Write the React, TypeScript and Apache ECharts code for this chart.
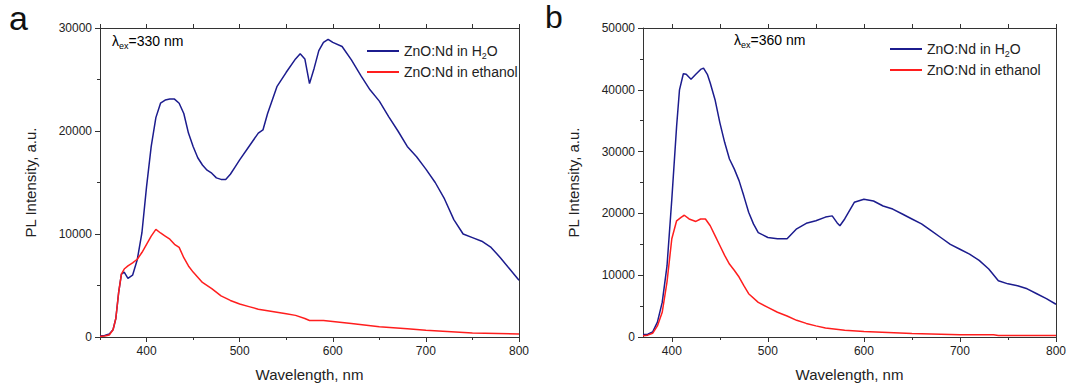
import React, { useEffect, useRef } from "react";
import * as echarts from "echarts";

// Panel a (λex = 330 nm)
const waveA_H2O = [350, 355, 360, 364, 367, 370, 373, 376, 380, 385, 390, 395, 400, 405, 410, 415, 420, 425, 430, 435, 440, 445, 450, 455, 460, 465, 470, 475, 480, 485, 490, 495, 500, 510, 520, 525, 530, 540, 550, 560, 565, 570, 575, 580, 585, 590, 595, 600, 610, 620, 630, 640, 650, 660, 670, 680, 690, 700, 710, 720, 730, 740, 750, 760, 770, 780, 790, 800];
const intA_H2O = [100, 150, 300, 700, 1800, 4300, 6100, 6300, 5700, 6000, 7500, 10100, 14600, 18500, 21300, 22700, 23000, 23100, 23100, 22700, 21700, 19800, 18500, 17400, 16700, 16200, 15900, 15450, 15300, 15300, 15800, 16500, 17200, 18500, 19800, 20100, 21700, 24300, 25700, 27000, 27500, 27000, 24600, 26100, 27800, 28600, 28900, 28600, 28200, 26900, 25400, 24000, 22900, 21400, 20000, 18500, 17500, 16300, 15000, 13400, 11400, 10000, 9650, 9300, 8700, 7700, 6600, 5500];
const waveA_EtOH = [350, 355, 360, 364, 367, 370, 373, 376, 380, 385, 390, 395, 400, 405, 410, 415, 420, 425, 430, 435, 440, 445, 450, 455, 460, 470, 480, 490, 500, 510, 520, 530, 540, 550, 560, 570, 575, 590, 600, 620, 650, 680, 700, 750, 800];
const intA_EtOH = [50, 100, 200, 700, 1800, 4300, 6100, 6600, 6900, 7200, 7550, 8200, 9000, 9800, 10450, 10100, 9800, 9500, 9000, 8700, 7700, 6900, 6300, 5800, 5300, 4700, 4000, 3550, 3200, 2950, 2700, 2550, 2400, 2250, 2100, 1800, 1600, 1600, 1500, 1300, 1000, 800, 650, 400, 300];

// Panel b (λex = 360 nm)
const waveB_H2O = [370, 375, 380, 385, 390, 395, 400, 405, 408, 412, 415, 420, 425, 430, 433, 437, 440, 445, 450, 455, 460, 465, 470, 475, 480, 485, 490, 500, 510, 520, 530, 540, 550, 560, 567, 572, 575, 580, 590, 600, 610, 620, 630, 640, 650, 660, 670, 680, 690, 700, 710, 720, 730, 740, 750, 760, 770, 780, 790, 800];
const intB_H2O = [400, 450, 800, 2400, 5600, 11500, 22300, 34100, 40000, 42600, 42500, 41700, 42500, 43300, 43500, 42500, 41100, 38400, 34700, 31500, 28800, 27200, 25300, 22800, 20200, 18300, 16900, 16100, 15900, 15900, 17500, 18400, 18800, 19400, 19600, 18500, 18000, 19100, 21800, 22300, 22000, 21200, 20700, 19900, 19100, 18300, 17200, 16100, 15000, 14200, 13400, 12400, 11000, 9100, 8600, 8300, 7800, 7000, 6200, 5300];
const waveB_EtOH = [370, 375, 380, 385, 390, 395, 400, 405, 410, 413, 418, 425, 430, 435, 440, 445, 450, 455, 460, 465, 470, 475, 480, 490, 500, 510, 520, 530, 540, 550, 560, 580, 600, 650, 700, 735, 740, 800];
const intB_EtOH = [200, 300, 600, 1800, 4000, 8900, 15900, 18800, 19400, 19700, 19100, 18700, 19100, 19100, 18000, 16400, 14800, 13200, 11800, 10800, 9700, 8300, 7000, 5600, 4800, 4000, 3400, 2700, 2200, 1800, 1450, 1100, 900, 550, 380, 350, 250, 250];

const seriesNames = ["ZnO:Nd in H2O", "ZnO:Nd in ethanol"];
const xMajorTicks = [400, 500, 600, 700, 800];
const xMinorTicksA = [350, 450, 550, 650, 750];
const xMinorTicksB = [450, 550, 650, 750];
const xTopTicksA = [350, 400, 450, 500, 550, 600, 650, 700, 750, 800];
const xTopTicksB = [400, 450, 500, 550, 600, 650, 700, 750, 800];

const BLUE = "#1c1c8e";
const RED = "#ff1e1e";
const AXIS = "#333";
const TEXT = "#222";
const FONT = '"Liberation Sans", Arial, sans-serif';

const zip = (xs: number[], ys: number[]) => xs.map((x, i) => [x, ys[i]]);

function xAxes(grid: number, min: number, minor: number[], top: number[]) {
  return [
    {
      type: "value", gridIndex: grid, min, max: 800, position: "bottom",
      axisLine: { show: true, onZero: false, lineStyle: { color: AXIS, width: 1 } },
      axisTick: { show: true, customValues: xMajorTicks, length: 5, lineStyle: { color: AXIS } },
      axisLabel: { customValues: xMajorTicks, fontSize: 12, color: TEXT, margin: 8, fontFamily: FONT },
      splitLine: { show: false },
      name: "Wavelength, nm", nameLocation: "middle", nameGap: 30,
      nameTextStyle: { fontSize: 15, color: TEXT, fontFamily: FONT },
    },
    {
      type: "value", gridIndex: grid, min, max: 800, position: "bottom",
      axisLine: { show: false, onZero: false },
      axisTick: { show: true, customValues: minor, length: 3, lineStyle: { color: AXIS } },
      axisLabel: { show: false },
      splitLine: { show: false },
    },
    {
      type: "value", gridIndex: grid, min, max: 800, position: "top",
      axisLine: { show: true, onZero: false, lineStyle: { color: AXIS, width: 1 } },
      axisTick: { show: true, customValues: top, length: 4, lineStyle: { color: AXIS } },
      axisLabel: { show: false },
      splitLine: { show: false },
    },
  ];
}

function yAxes(grid: number, max: number) {
  return [
    {
      type: "value", gridIndex: grid, min: 0, max, interval: 10000, position: "left",
      axisLine: { show: true, onZero: false, lineStyle: { color: AXIS, width: 1 } },
      axisTick: { show: true, length: 5, lineStyle: { color: AXIS } },
      minorTick: { show: true, splitNumber: 2, length: 3, lineStyle: { color: AXIS } },
      axisLabel: { fontSize: 12, color: TEXT, margin: 8, fontFamily: FONT, formatter: (v: number) => String(v) },
      splitLine: { show: false },
      minorSplitLine: { show: false },
      name: "PL Intensity, a.u.", nameLocation: "middle", nameGap: 62,
      nameTextStyle: { fontSize: 15, color: TEXT, fontFamily: FONT },
    },
    {
      type: "value", gridIndex: grid, min: 0, max, interval: 10000, position: "right",
      axisLine: { show: true, onZero: false, lineStyle: { color: AXIS, width: 1 } },
      axisTick: { show: false },
      axisLabel: { show: false },
      splitLine: { show: false },
    },
  ];
}

const legendRich = {
  a: { fontSize: 14, color: TEXT, fontFamily: FONT, lineHeight: 18 },
  s: { fontSize: 9, color: TEXT, fontFamily: FONT, lineHeight: 8, verticalAlign: "bottom" },
};

function legendAt(left: number, top: number) {
  return {
    left, top, orient: "vertical", icon: "rect", itemWidth: 32, itemHeight: 2, itemGap: 5,
    data: seriesNames,
    selectedMode: false,
    textStyle: { fontSize: 14, color: TEXT, fontFamily: FONT, rich: legendRich },
    formatter: (name: string) =>
      name === seriesNames[0] ? "{a|ZnO:Nd in H}{s|2}{a|O}" : "{a|" + name + "}",
  };
}

const lamRich = {
  l: { fontSize: 14, color: TEXT, fontFamily: FONT, lineHeight: 18 },
  s: { fontSize: 9, color: TEXT, fontFamily: FONT, lineHeight: 8, verticalAlign: "bottom" },
};

function line(name: string, xi: number, yi: number, data: number[][], color: string) {
  return {
    type: "line", name, xAxisIndex: xi, yAxisIndex: yi, data,
    showSymbol: false, symbol: "none", smooth: false,
    lineStyle: { color, width: 1.5 }, itemStyle: { color },
  };
}

export default function App() {
  const ref = useRef<HTMLDivElement>(null);
  useEffect(() => {
    if (!ref.current) return;
    const chart = echarts.init(ref.current, undefined, { renderer: "svg" });
    chart.setOption({
      animation: false,
      backgroundColor: "#fff",
      textStyle: { fontFamily: FONT },
      grid: [
        { left: 100, top: 28, width: 419, height: 309 },
        { left: 643, top: 28, width: 416, height: 309 },
      ],
      xAxis: [...xAxes(0, 350, xMinorTicksA, xTopTicksA), ...xAxes(1, 370, xMinorTicksB, xTopTicksB)],
      yAxis: [...yAxes(0, 30000), ...yAxes(1, 50000)],
      legend: [legendAt(362, 39), legendAt(885, 37)],
      graphic: [
        { type: "text", left: 9, top: 0, style: { text: "a", fontSize: 34, lineHeight: 36, fill: "#111", fontFamily: FONT } },
        { type: "text", left: 545, top: 0, style: { text: "b", fontSize: 32, lineHeight: 34, fill: "#111", fontFamily: FONT } },
        { type: "text", left: 112, top: 34, style: { text: "{l|λ}{s|ex}{l|=330 nm}", rich: lamRich } },
        { type: "text", left: 734, top: 33, style: { text: "{l|λ}{s|ex}{l|=360 nm}", rich: lamRich } },
      ],
      series: [
        line(seriesNames[0], 0, 0, zip(waveA_H2O, intA_H2O), BLUE),
        line(seriesNames[1], 0, 0, zip(waveA_EtOH, intA_EtOH), RED),
        line(seriesNames[0], 3, 2, zip(waveB_H2O, intB_H2O), BLUE),
        line(seriesNames[1], 3, 2, zip(waveB_EtOH, intB_EtOH), RED),
      ],
    });
    return () => chart.dispose();
  }, []);
  return <div ref={ref} style={{ position: "fixed", left: 0, top: 0, width: 1069, height: 389 }} />;
}
